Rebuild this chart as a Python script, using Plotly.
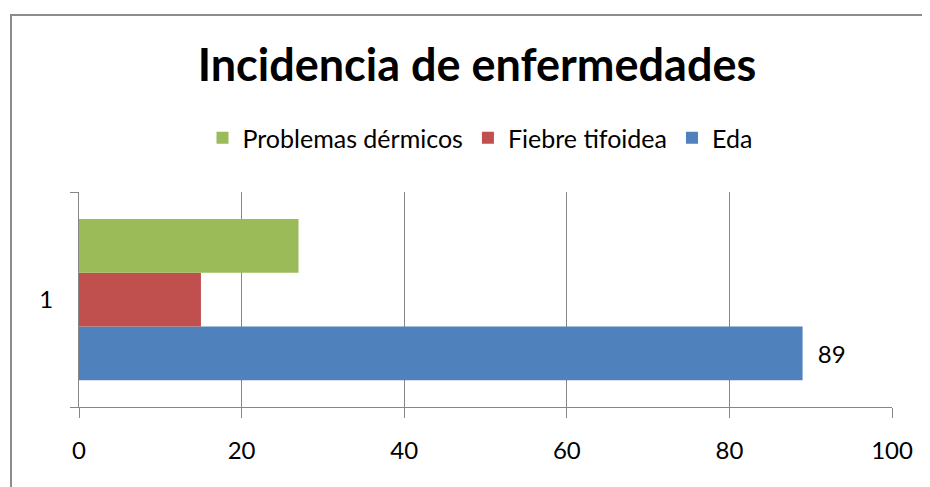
import plotly.graph_objects as go

categories = ["1"]
series_names = ["Eda", "Fiebre tifoidea", "Problemas dérmicos"]
eda = [89]
fiebre = [15]
dermicos = [27]
colors = ["#4F81BD", "#C0504D", "#9BBB59"]
x_ticks = [0, 20, 40, 60, 80, 100]

# page is shown with an 8px body margin, so the figure is drawn 8px smaller
OFF = 8
W, H = 930 - OFF, 487 - OFF
ML, MR, MT, MB = 79 - OFF, 38, 192 - OFF, 80
PW, PH = W - ML - MR, H - MT - MB

fig = go.Figure()
for name, vals, col in zip(series_names, [eda, fiebre, dermicos], colors):
    fig.add_trace(go.Bar(
        y=categories, x=vals, name=name, orientation="h",
        marker=dict(color=col, line=dict(width=0)),
        text=["\u00a0\u00a0" + str(v) for v in vals] if name == "Eda" else None,
        textposition="outside" if name == "Eda" else "none",
        textfont=dict(family="Lato", size=24, color="#000000"),
        cliponaxis=False,
    ))

# chart border (only top/left visible in the reference)
bx0, by0 = 11 - OFF, 15 - OFF
fig.add_shape(type="rect", xref="paper", yref="paper",
              x0=(bx0 - ML) / PW, x1=(W + 20 - ML) / PW,
              y0=(H - MB - (H + 20)) / PH, y1=(H - MB - by0) / PH,
              line=dict(color="#8C8C8C", width=2), fillcolor="rgba(0,0,0,0)", layer="below")

fig.update_layout(
    width=W, height=H,
    margin=dict(l=ML, r=MR, t=MT, b=MB),
    paper_bgcolor="white", plot_bgcolor="white",
    barmode="group", bargap=0.25, bargroupgap=0,
    title=dict(text="<b>Incidencia de enfermedades</b>", x=(477 - OFF) / W, xanchor="center",
               y=1 - (65 - OFF) / H, yanchor="middle", yref="container",
               font=dict(family="Lato", size=45, color="#000000")),
    legend=dict(orientation="h", traceorder="reversed", x=(480 - OFF - ML) / PW, xanchor="center",
                y=(H - MB - (138 - OFF)) / PH, yanchor="middle",
                font=dict(family="Lato", size=25, color="#000000"),
                itemwidth=30, bgcolor="rgba(0,0,0,0)"),
    font=dict(family="Lato", size=24, color="#000000"),
    showlegend=True,
)
fig.update_xaxes(range=[0, 100], tickvals=x_ticks, showgrid=True, gridcolor="#868686", gridwidth=1,
                 showline=True, linecolor="#868686", linewidth=1, ticks="outside", ticklen=10,
                 tickcolor="#868686", zeroline=False, ticklabelstandoff=12,
                 tickfont=dict(family="Lato", size=24, color="#000000"), fixedrange=True)
fig.update_yaxes(type="category", showline=True, linecolor="#868686", linewidth=1, ticks="outside",
                 tickson="boundaries", ticklen=8, tickcolor="#868686", showgrid=False,
                 ticklabelstandoff=20, tickfont=dict(family="Lato", size=24, color="#000000"))

fig.write_html("out.html")
